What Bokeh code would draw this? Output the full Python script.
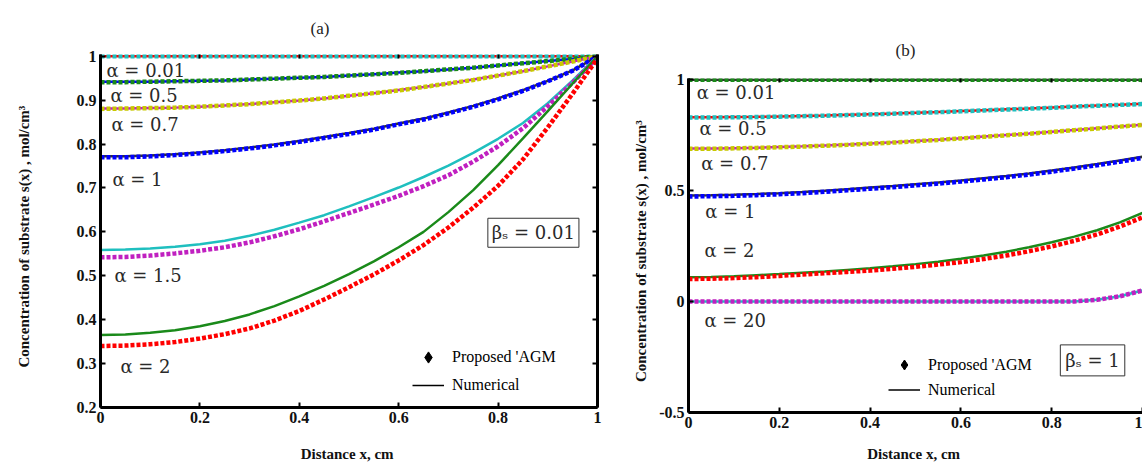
from bokeh.plotting import figure
from bokeh.models import Label, LinearAxis, Legend, LegendItem, FixedTicker
from bokeh.embed import file_html
from bokeh.resources import INLINE

# ---------------- data ----------------
x_grid = [0.0, 0.05, 0.1, 0.15, 0.2, 0.25, 0.3, 0.35, 0.4, 0.45, 0.5,
          0.55, 0.6, 0.65, 0.7, 0.75, 0.8, 0.85, 0.9, 0.95, 1.0]

# panel (a), beta_s = 0.01
a_alpha = ["0.01", "0.5", "0.7", "1", "1.5", "2"]
a_num_001 = [1.0, 1.0, 1.0, 1.0, 1.0, 1.0, 1.0, 1.0, 1.0, 1.0, 1.0,
             1.0, 1.0, 1.0, 1.0, 1.0, 1.0, 1.0, 1.0, 1.0, 1.0]
a_agm_001 = [1.0, 1.0, 1.0, 1.0, 1.0, 1.0, 1.0, 1.0, 1.0, 1.0, 1.0,
             1.0, 1.0, 1.0, 1.0, 1.0, 1.0, 1.0, 1.0, 1.0, 1.0]
a_num_05 = [0.942, 0.942, 0.942, 0.943, 0.944, 0.945, 0.947, 0.949, 0.951, 0.953, 0.956,
            0.959, 0.963, 0.966, 0.970, 0.974, 0.979, 0.984, 0.989, 0.994, 1.0]
a_agm_05 = [0.941, 0.941, 0.942, 0.943, 0.944, 0.945, 0.947, 0.949, 0.951, 0.953, 0.956,
            0.959, 0.962, 0.966, 0.970, 0.974, 0.979, 0.984, 0.989, 0.994, 1.0]
a_num_07 = [0.881, 0.881, 0.882, 0.883, 0.885, 0.888, 0.891, 0.895, 0.899, 0.904, 0.910,
            0.916, 0.923, 0.930, 0.938, 0.947, 0.956, 0.966, 0.977, 0.988, 1.0]
a_agm_07 = [0.880, 0.881, 0.882, 0.883, 0.885, 0.888, 0.891, 0.895, 0.899, 0.904, 0.910,
            0.916, 0.922, 0.930, 0.938, 0.946, 0.956, 0.966, 0.977, 0.988, 1.0]
a_num_1 = [0.772, 0.772, 0.774, 0.777, 0.781, 0.786, 0.792, 0.799, 0.807, 0.816, 0.825,
           0.835, 0.847, 0.858, 0.872, 0.887, 0.904, 0.923, 0.944, 0.968, 1.0]
a_agm_1 = [0.770, 0.770, 0.772, 0.775, 0.779, 0.784, 0.790, 0.797, 0.805, 0.814, 0.823,
           0.833, 0.845, 0.856, 0.870, 0.885, 0.902, 0.921, 0.943, 0.967, 1.0]
a_num_15 = [0.559, 0.560, 0.562, 0.566, 0.572, 0.580, 0.591, 0.605, 0.621, 0.638, 0.658,
            0.679, 0.701, 0.725, 0.751, 0.780, 0.812, 0.848, 0.893, 0.945, 1.0]
a_agm_15 = [0.542, 0.543, 0.546, 0.551, 0.557, 0.565, 0.576, 0.590, 0.606, 0.624, 0.643,
            0.662, 0.682, 0.704, 0.729, 0.760, 0.795, 0.836, 0.886, 0.940, 0.997]
a_num_2 = [0.365, 0.366, 0.370, 0.376, 0.385, 0.397, 0.412, 0.431, 0.453, 0.477, 0.504,
           0.533, 0.565, 0.600, 0.645, 0.695, 0.752, 0.813, 0.875, 0.938, 1.0]
a_agm_2 = [0.340, 0.341, 0.344, 0.349, 0.357, 0.367, 0.380, 0.398, 0.420, 0.446, 0.474,
           0.503, 0.535, 0.570, 0.610, 0.655, 0.705, 0.765, 0.838, 0.915, 0.995]

# panel (b), beta_s = 1
b_alpha = ["0.01", "0.5", "0.7", "1", "2", "20"]
b_num_001 = [1.0, 1.0, 1.0, 1.0, 1.0, 1.0, 1.0, 1.0, 1.0, 1.0, 1.0,
             1.0, 1.0, 1.0, 1.0, 1.0, 1.0, 1.0, 1.0, 1.0, 1.0]
b_agm_001 = [1.0, 1.0, 1.0, 1.0, 1.0, 1.0, 1.0, 1.0, 1.0, 1.0, 1.0,
             1.0, 1.0, 1.0, 1.0, 1.0, 1.0, 1.0, 1.0, 1.0, 1.0]
b_num_05 = [0.831, 0.831, 0.832, 0.833, 0.835, 0.837, 0.839, 0.842, 0.845, 0.848, 0.852,
            0.855, 0.859, 0.863, 0.867, 0.871, 0.875, 0.880, 0.884, 0.888, 0.892]
b_agm_05 = [0.830, 0.830, 0.831, 0.832, 0.834, 0.836, 0.838, 0.841, 0.844, 0.847, 0.851,
            0.854, 0.858, 0.862, 0.866, 0.870, 0.874, 0.879, 0.883, 0.887, 0.891]
b_num_07 = [0.690, 0.690, 0.692, 0.694, 0.697, 0.700, 0.704, 0.708, 0.713, 0.718, 0.724,
            0.730, 0.737, 0.744, 0.751, 0.758, 0.766, 0.774, 0.782, 0.790, 0.798]
b_agm_07 = [0.689, 0.689, 0.691, 0.693, 0.696, 0.699, 0.703, 0.707, 0.712, 0.717, 0.723,
            0.729, 0.736, 0.743, 0.750, 0.757, 0.765, 0.773, 0.781, 0.789, 0.797]
b_num_1 = [0.479, 0.480, 0.482, 0.485, 0.489, 0.494, 0.500, 0.507, 0.514, 0.521, 0.529,
           0.537, 0.546, 0.556, 0.566, 0.578, 0.591, 0.605, 0.620, 0.636, 0.653]
b_agm_1 = [0.474, 0.475, 0.477, 0.480, 0.484, 0.489, 0.495, 0.502, 0.509, 0.516, 0.524,
           0.532, 0.541, 0.551, 0.561, 0.573, 0.586, 0.600, 0.615, 0.631, 0.648]
b_num_2 = [0.110, 0.111, 0.114, 0.119, 0.124, 0.130, 0.136, 0.143, 0.150, 0.159, 0.169,
           0.180, 0.193, 0.208, 0.225, 0.245, 0.268, 0.293, 0.322, 0.357, 0.400]
b_agm_2 = [0.102, 0.103, 0.106, 0.110, 0.116, 0.122, 0.128, 0.134, 0.140, 0.148, 0.157,
           0.167, 0.178, 0.192, 0.208, 0.227, 0.249, 0.274, 0.303, 0.338, 0.380]
b_num_20 = [0.0, 0.0, 0.0, 0.0, 0.0, 0.0, 0.0, 0.0, 0.0, 0.0, 0.0,
            0.0, 0.0, 0.0, 0.0, 0.0, 0.0, 0.001, 0.008, 0.024, 0.050]
b_agm_20 = [0.0, 0.0, 0.0, 0.0, 0.0, 0.0, 0.0, 0.0, 0.0, 0.0, 0.0,
            0.0, 0.0, 0.0, 0.0, 0.0, 0.0, 0.001, 0.008, 0.024, 0.050]

x_ticks = [0, 0.2, 0.4, 0.6, 0.8, 1]
x_tick_labels = ["0", "0.2", "0.4", "0.6", "0.8", "1"]
a_y_ticks = [0.2, 0.3, 0.4, 0.5, 0.6, 0.7, 0.8, 0.9, 1]
a_y_tick_labels = ["0.2", "0.3", "0.4", "0.5", "0.6", "0.7", "0.8", "0.9", "1"]
b_y_ticks = [-0.5, 0, 0.5, 1]
b_y_tick_labels = ["-0.5", "0", "0.5", "1"]

legend_labels = ["Proposed 'AGM", "Numerical"]
y_label = "Concentration  of substrate  s(x) ,  mol/cm³"
x_label = "Distance  x, cm"

# ---------------- styles ----------------
RED = "#ff0000"
CYAN = "#1fbfbf"
BLUE = "#0000ff"
GREEN = "#1a8a1a"
MAG = "#c020c0"
YEL = "#c8c800"
BLK = "#333333"
SERIF = "Liberation Serif"
MATH = "DejaVu Serif"
NAN = float("nan")


def style_axes(p, xt, xl, yt, yl, right_axis, x_standoff, y_standoff):
    xa = p.below[0]
    ya = p.left[0]
    xa.ticker = FixedTicker(ticks=xt)
    ya.ticker = FixedTicker(ticks=yt)
    xa.major_label_overrides = {t: s for t, s in zip(xt, xl)}
    ya.major_label_overrides = {t: s for t, s in zip(yt, yl)}
    for ax in (xa, ya):
        ax.axis_line_width = 3
        ax.axis_line_color = "black"
        ax.major_tick_in = 5
        ax.major_tick_out = 0
        ax.major_tick_line_width = 2
        ax.minor_tick_line_color = None
        ax.major_label_text_font = SERIF
        ax.major_label_text_font_style = "bold"
        ax.major_label_text_font_size = "16px"
        ax.major_label_text_color = "#111111"
        ax.axis_label_text_font = SERIF
        ax.axis_label_text_font_style = "bold"
        ax.axis_label_text_font_size = "15px"
        ax.axis_label_text_color = "#111111"
    xa.major_label_standoff = 4
    ya.major_label_standoff = 4
    xa.axis_label_standoff = x_standoff
    ya.axis_label_standoff = y_standoff
    top = LinearAxis(ticker=FixedTicker(ticks=xt), axis_line_color=None,
                     major_tick_in=4, major_tick_out=0, major_tick_line_width=2,
                     minor_tick_line_color=None, major_label_text_font_size="0px",
                     major_label_standoff=0)
    p.add_layout(top, "above")
    if right_axis:
        rt = LinearAxis(ticker=FixedTicker(ticks=yt), axis_line_color="black",
                        axis_line_width=3, major_tick_in=5, major_tick_out=0,
                        major_tick_line_width=2, minor_tick_line_color=None,
                        major_label_text_font_size="0px", major_label_standoff=0)
        p.add_layout(rt, "right")
    p.grid.visible = False
    p.outline_line_color = None
    p.background_fill_color = "white"
    p.border_fill_color = "white"
    p.title.align = "left"
    p.title.text_font = SERIF
    p.title.text_font_style = "normal"
    p.title.text_font_size = "17px"
    p.title.text_color = "#222222"


def draw(p, x, num, agm, c_num, c_agm):
    p.line(x, num, color=c_num, line_width=2.5)
    p.line(x, agm, color=c_agm, line_width=4.5, line_dash="4 2")


def alpha_label(p, xv, yv, txt):
    p.add_layout(Label(x=xv, y=yv, text="α = " + txt, text_baseline="middle",
                       text_font=MATH, text_font_size="18px", text_color="#2a2a2a"))


def make_legend(p, loc, item_h):
    r_d = p.scatter(x=[NAN], y=[NAN], marker="diamond", size=14, color="black")
    r_l = p.line(x=[NAN, NAN], y=[NAN, NAN], color="black", line_width=1.5)
    leg = Legend(items=[LegendItem(label=legend_labels[0], renderers=[r_d]),
                        LegendItem(label=legend_labels[1], renderers=[r_l])],
                 location=loc, margin=0, padding=0, spacing=0,
                 glyph_width=32, glyph_height=item_h, label_height=item_h,
                 label_standoff=8, border_line_color=None,
                 background_fill_alpha=0, label_text_font=SERIF,
                 label_text_font_size="16px", label_text_color="black")
    p.add_layout(leg)


# ---------------- panel (a) ----------------
pa = figure(width=625, height=464, x_range=(0, 1), y_range=(0.2, 1.004),
            output_backend="svg", toolbar_location=None, title="(a)",
            min_border_left=100, min_border_right=28, min_border_top=54,
            min_border_bottom=56, x_axis_label=x_label, y_axis_label=y_label)
style_axes(pa, x_ticks, x_tick_labels, a_y_ticks, a_y_tick_labels, True, 20, 42)
pa.title.offset = 210
pa.title.standoff = 33

draw(pa, x_grid, a_num_001, a_agm_001, RED, CYAN)
draw(pa, x_grid, a_num_05, a_agm_05, BLUE, GREEN)
draw(pa, x_grid, a_num_07, a_agm_07, MAG, YEL)
draw(pa, x_grid, a_num_1, a_agm_1, BLK, BLUE)
draw(pa, x_grid, a_num_15, a_agm_15, CYAN, MAG)
draw(pa, x_grid, a_num_2, a_agm_2, GREEN, RED)

alpha_label(pa, 0.012, 0.968, a_alpha[0])
alpha_label(pa, 0.020, 0.910, a_alpha[1])
alpha_label(pa, 0.022, 0.844, a_alpha[2])
alpha_label(pa, 0.024, 0.720, a_alpha[3])
alpha_label(pa, 0.028, 0.500, a_alpha[4])
alpha_label(pa, 0.040, 0.293, a_alpha[5])
pa.add_layout(Label(x=0.871, y=0.598, text="βₛ = 0.01", text_align="center",
                    text_baseline="middle", text_font=MATH, text_font_size="18px",
                    text_color="#2a2a2a", border_line_color="#333333",
                    border_line_width=1, background_fill_color="white", padding=4))
make_legend(pa, (312, 8), 28)

# ---------------- panel (b) ----------------
pb = figure(width=517, height=464, x_range=(0, 1), y_range=(-0.5, 1.006),
            output_backend="svg", toolbar_location=None, title="(b)",
            min_border_left=63, min_border_right=0, min_border_top=78,
            min_border_bottom=49, x_axis_label=x_label, y_axis_label=y_label)
style_axes(pb, x_ticks, x_tick_labels, b_y_ticks, b_y_tick_labels, False, 15, 7)
pb.title.offset = 207
pb.title.standoff = 38

draw(pb, x_grid, b_num_001, b_agm_001, BLK, GREEN)
draw(pb, x_grid, b_num_05, b_agm_05, RED, CYAN)
draw(pb, x_grid, b_num_07, b_agm_07, MAG, YEL)
draw(pb, x_grid, b_num_1, b_agm_1, BLK, BLUE)
draw(pb, x_grid, b_num_2, b_agm_2, GREEN, RED)
draw(pb, x_grid, b_num_20, b_agm_20, CYAN, MAG)

alpha_label(pb, 0.018, 0.941, b_alpha[0])
alpha_label(pb, 0.024, 0.780, b_alpha[1])
alpha_label(pb, 0.028, 0.624, b_alpha[2])
alpha_label(pb, 0.037, 0.407, b_alpha[3])
alpha_label(pb, 0.035, 0.229, b_alpha[4])
alpha_label(pb, 0.035, -0.083, b_alpha[5])
pb.add_layout(Label(x=0.890, y=-0.265, text="βₛ = 1", text_align="center",
                    text_baseline="middle", text_font=MATH, text_font_size="18px",
                    text_color="#2a2a2a", border_line_color="#333333",
                    border_line_width=1, background_fill_color="white", padding=5))
make_legend(pb, (200, 10), 25)

# two independent roots placed side by side (so their frames are not aligned)
SIDE_BY_SIDE = """
{% block postamble %}
<style>
  html, body { margin: 0 !important; padding: 0 !important; }
  body { display: flex !important; flex-direction: row; align-items: flex-start; }
</style>
{% endblock %}
"""
open("out.html", "w").write(file_html([pa, pb], INLINE, template=SIDE_BY_SIDE))
